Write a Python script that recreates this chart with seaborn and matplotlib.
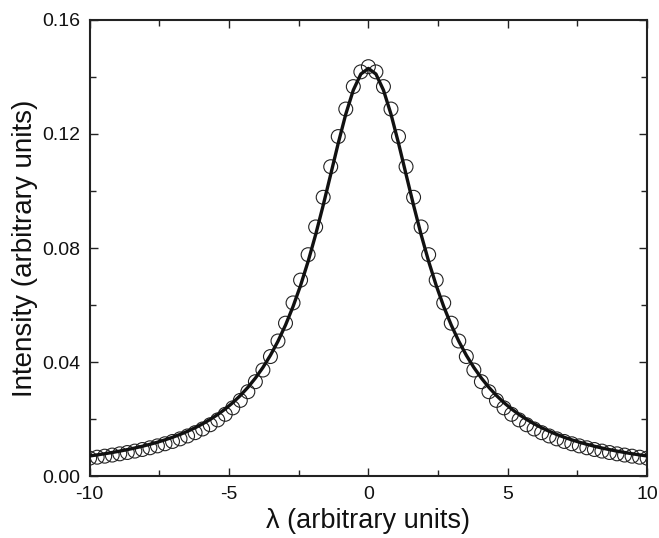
import numpy as np
import pandas as pd
import matplotlib
matplotlib.use("Agg")
from matplotlib import pyplot as plt
import seaborn as sns

# wavelength grid, 75 points from -10 to 10
lam = np.linspace(-10, 10, 75)

meas_half = [0.14360, 0.14178, 0.13661, 0.12874, 0.11909, 0.10852, 0.09779,
             0.08739, 0.07766, 0.06875, 0.06075, 0.05364, 0.04739, 0.04194,
             0.03721, 0.03312, 0.02960, 0.02656, 0.02394, 0.02168, 0.01972,
             0.01802, 0.01654, 0.01524, 0.01409, 0.01307, 0.01216, 0.01135,
             0.01061, 0.00994, 0.00934, 0.00878, 0.00828, 0.00782, 0.00739,
             0.00700, 0.00664, 0.00630]

# fitted curve (solid line), x >= 0 half
fit_half = [0.14300, 0.14102, 0.13539, 0.12695, 0.11676, 0.10583, 0.09497,
            0.08470, 0.07530, 0.06689, 0.05947, 0.05297, 0.04731, 0.04238,
            0.03810, 0.03437, 0.03111, 0.02826, 0.02576, 0.02355, 0.02161,
            0.01988, 0.01834, 0.01696, 0.01573, 0.01462, 0.01362, 0.01272,
            0.01190, 0.01116, 0.01048, 0.00986, 0.00930, 0.00877, 0.00830,
            0.00785, 0.00745, 0.00707]

# symmetric profile: mirror the halves
meas = meas_half[:0:-1] + meas_half
fit = fit_half[:0:-1] + fit_half

df = pd.DataFrame({"lam": lam, "meas": meas, "fit": fit})

sns.set_style("ticks")
plt.rcParams['font.family'] = ['Liberation Sans', 'DejaVu Sans']

fig = plt.figure(figsize=(6.59, 5.38), dpi=100)
ax = fig.add_axes([0.136, 0.115, 0.846, 0.848])

sns.scatterplot(data=df, x="lam", y="meas", ax=ax, marker="o", s=100,
                facecolors="none", edgecolor="#222222", linewidth=0.8,
                zorder=2)
sns.lineplot(data=df, x="lam", y="fit", ax=ax, color="#111111",
             linewidth=2.4, zorder=3)

ax.set_xlim(-10, 10)
ax.set_ylim(0, 0.16)
ax.set_xticks([-10, -5, 0, 5, 10])
ax.set_xticks([-7.5, -2.5, 2.5, 7.5], minor=True)
ax.set_yticks([0.0, 0.04, 0.08, 0.12, 0.16])
ax.set_yticks([0.02, 0.06, 0.10, 0.14], minor=True)
ax.set_yticklabels(["0.00", "0.04", "0.08", "0.12", "0.16"])
ax.set_xticklabels(["-10", "-5", "0", "5", "10"])

ax.tick_params(which="both", direction="in", top=True, right=True,
               color="#222222", labelsize=14, width=1.0, labelcolor="#111111")
ax.tick_params(which="major", length=6, pad=7)
ax.tick_params(which="minor", length=4)
for sp in ax.spines.values():
    sp.set_linewidth(1.5)
    sp.set_color("#222222")

ax.set_xlabel("λ (arbitrary units)", fontsize=19.5, labelpad=4, color="#111111")
ax.set_ylabel("Intensity (arbitrary units)", fontsize=20, labelpad=3, color="#111111")

fig.savefig("out.png", dpi=100)
